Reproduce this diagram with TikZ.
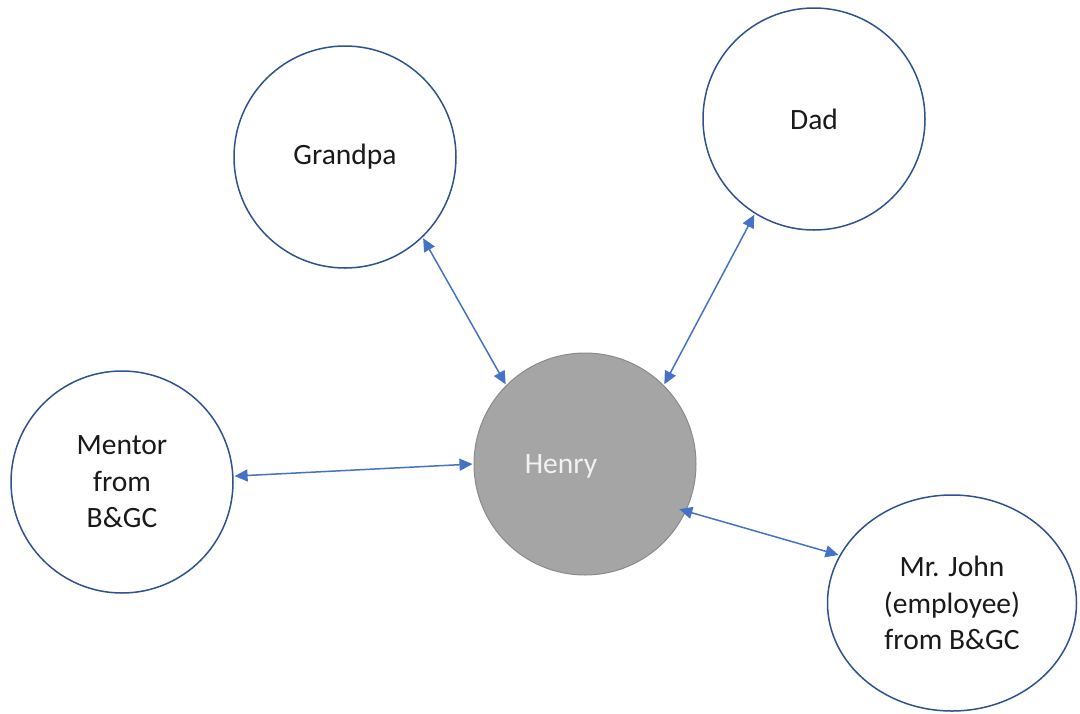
\documentclass[tikz,border=0pt]{standalone}
\usepackage{fontspec}
\setmainfont{Carlito}
\usetikzlibrary{arrows.meta,shapes.geometric}

\definecolor{ringblue}{HTML}{2F528F}
\definecolor{linkblue}{HTML}{4472C4}
\definecolor{hubgray}{HTML}{A5A5A5}
\definecolor{hubedge}{HTML}{8A8A8A}
\definecolor{hubtext}{HTML}{F2F2F2}
\definecolor{labeltext}{HTML}{1A1A1A}

\tikzset{
  person/.style={circle, draw=ringblue, line width=1.5pt, fill=white,
    minimum size=222pt, inner sep=0pt, align=center, text=labeltext,
    font=\fontsize{29.5}{36.5}\selectfont},
  personoval/.style={ellipse, draw=ringblue, line width=1.5pt, fill=white,
    minimum width=249pt, minimum height=216pt, inner sep=0pt, align=center,
    text=labeltext, font=\fontsize{29.5}{36.5}\selectfont},
  hub/.style={circle, draw=hubedge, line width=1pt, fill=hubgray,
    minimum size=222pt, inner sep=0pt},
  hubname/.style={text=hubtext, inner sep=0pt,
    font=\fontsize{29.5}{36.5}\selectfont},
  link/.style={{Triangle[length=13pt,width=12pt]}-{Triangle[length=13pt,width=12pt]},
    draw=linkblue, line width=1.5pt, shorten <=1pt, shorten >=1pt}
}

\begin{document}
\begin{tikzpicture}[x=1pt,y=-1pt]
  \useasboundingbox (0,0) rectangle (1080,713);

  % people around Henry
  \node[person] (grandpa) at (345,157) {Grandpa};
  \node[person] (dad) at (814,119) {Dad};
  \node[person] (mentor) at (122,482) {Mentor\\from\\B\&GC};
  \node[personoval] (john) at (952,603) {Mr. John\\(employee)\\from B\&GC};

  % Henry in the middle
  \node[hub] (henry) at (585,464) {};
  \node[hubname] (henryname) at (561,466) {Henry};

  % two-way links
  \draw[link] (grandpa.-46) -- (henry.135);
  \draw[link] (dad.-122) -- (henry.45);
  \draw[link] (mentor.3.5) -- (henry.180.5);
  \draw[link, shorten <=-7pt] (henry.-25) -- (john.157);
\end{tikzpicture}
\end{document}
